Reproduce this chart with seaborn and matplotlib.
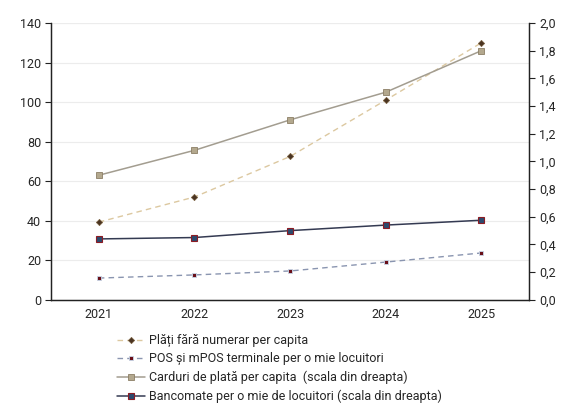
import matplotlib
matplotlib.use("Agg")
import matplotlib.pyplot as plt
import seaborn as sns
import pandas as pd
import numpy as np

years = [2021, 2022, 2023, 2024, 2025]
plati = [39.3, 52.0, 72.5, 101.0, 130.0]
pos = [11.0, 12.6, 14.6, 19.1, 23.7]
carduri = [0.90, 1.08, 1.30, 1.50, 1.80]
bancomate = [0.44, 0.45, 0.50, 0.54, 0.575]

labels = ["Plăți fără numerar per capita",
          "POS și mPOS terminale per o mie locuitori",
          "Carduri de plată per capita  (scala din dreapta)",
          "Bancomate per o mie de locuitori (scala din dreapta)"]

sns.set_style("white")
plt.rcParams['font.family'] = ['Roboto', 'DejaVu Sans']

df = pd.DataFrame({"an": years, "plati": plati, "pos": pos,
                   "carduri": carduri, "bancomate": bancomate})

fig = plt.figure(figsize=(5.64, 4.03), dpi=100)
ax = fig.add_axes([0.0904, 0.256, 0.848, 0.687])
ax2 = ax.twinx()

# left scale
sns.lineplot(data=df, x="an", y="plati", ax=ax, color="#dcc8a0", linestyle=(0, (4, 3)),
             linewidth=1, marker="D", markersize=3.2, markerfacecolor="#4a3422",
             markeredgecolor="#7a6040", markeredgewidth=0.5, label=labels[0], legend=False)
sns.lineplot(data=df, x="an", y="pos", ax=ax, color="#8a95b0", linestyle=(0, (4, 3)),
             linewidth=1, marker="s", markersize=3.2, markerfacecolor="#6a0f18",
             markeredgecolor="#c8d8ea", markeredgewidth=0.6, label=labels[1], legend=False)
# right scale
sns.lineplot(data=df, x="an", y="carduri", ax=ax2, color="#a39d90", linewidth=1.1,
             marker="s", markersize=4.5, markerfacecolor="#b3a88e",
             markeredgecolor="#8c7f66", markeredgewidth=0.6, label=labels[2], legend=False)
sns.lineplot(data=df, x="an", y="bancomate", ax=ax2, color="#343a52", linewidth=1.1,
             marker="s", markersize=4.3, markerfacecolor="#2c4a6e",
             markeredgecolor="#8c1c24", markeredgewidth=0.8, label=labels[3], legend=False)

ax.set_xlim(2020.5, 2025.5)
ax.set_ylim(0, 140)
ax2.set_ylim(0, 2.0)
ax.set_yticks(np.arange(0, 141, 20))
ax2.set_yticks(np.arange(0, 2.01, 0.2))
ax2.set_yticklabels([f"{v:.1f}".replace(".", ",") for v in np.arange(0, 2.01, 0.2)])
ax.set_xticks(years)
ax.set_xticks(np.arange(2020.5, 2026, 1), minor=True)
ax.tick_params(axis="x", which="major", length=0, pad=6, labelsize=9)
ax.tick_params(axis="x", which="minor", length=4, width=0.8, direction="out", color="#222222")
ax.tick_params(axis="y", length=4, width=0.8, direction="out", labelsize=9, color="#222222", pad=3)
ax2.tick_params(axis="y", length=4, width=0.8, direction="out", labelsize=9, color="#222222", pad=3)
ax.set_xlabel("")
ax.set_ylabel("")
ax2.set_ylabel("")

ax.grid(axis="y", color="#ececec", linewidth=0.8)
ax.set_axisbelow(True)
for a in (ax, ax2):
    a.spines["top"].set_visible(False)
    for s in ("left", "right", "bottom"):
        a.spines[s].set_color("#222222")
        a.spines[s].set_linewidth(0.9)
ax.axhline(140, color="#e2e2e2", linewidth=1.5, zorder=0)

h1, l1 = ax.get_legend_handles_labels()
h2, l2 = ax2.get_legend_handles_labels()
fig.legend(h1 + h2, l1 + l2, loc="upper left", bbox_to_anchor=(0.197, 0.187),
           frameon=False, fontsize=9, handlelength=2.2, handletextpad=0.3,
           labelspacing=0.44, borderpad=0)

fig.savefig("out.png", dpi=100)
